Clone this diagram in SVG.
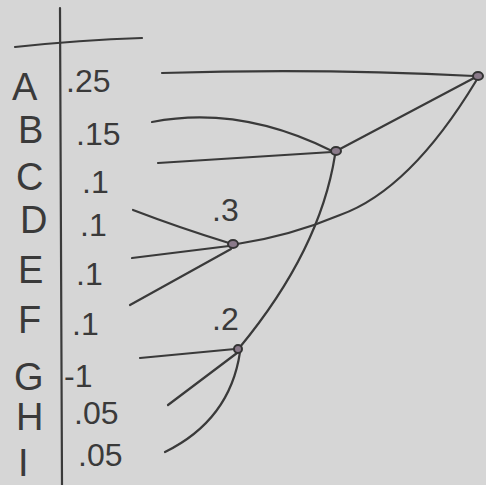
<svg xmlns="http://www.w3.org/2000/svg" width="486" height="485" viewBox="0 0 486 485">
<style>
.ln{fill:none;stroke:#3a3a3a;stroke-width:2.2;stroke-linecap:round}
.lt{font-family:"Liberation Sans","DejaVu Sans",sans-serif;font-size:38px;fill:#3a3a3a}
.v{font-family:"Liberation Sans","DejaVu Sans",sans-serif;font-size:32px;fill:#3a3a3a}
.n{fill:#8a7a8a;stroke:#333;stroke-width:2}
</style>
<rect width="486" height="485" fill="#d6d6d6"/>
<g id="table">
<path class="ln" d="M60 8 L62 485" stroke-width="2.5"/>
<path class="ln" d="M15 47 Q80 40 142 38" stroke-width="3.5"/>
</g>
<g id="labels">
<text class="lt" x="12" y="100">A</text>
<text class="lt" x="18" y="143">B</text>
<text class="lt" x="16" y="190">C</text>
<text class="lt" x="20" y="233">D</text>
<text class="lt" x="18" y="283">E</text>
<text class="lt" x="18" y="333">F</text>
<text class="lt" x="14" y="390">G</text>
<text class="lt" x="16" y="430">H</text>
<text class="lt" x="18" y="476">I</text>
</g>
<g id="values">
<text class="v" x="66" y="92">.25</text>
<text class="v" x="76" y="145">.15</text>
<text class="v" x="82" y="193">.1</text>
<text class="v" x="80" y="236">.1</text>
<text class="v" x="76" y="285">.1</text>
<text class="v" x="72" y="335">.1</text>
<text class="v" x="64" y="387">-1</text>
<text class="v" x="74" y="424">.05</text>
<text class="v" x="78" y="466">.05</text>
</g>
<g id="connectors">
<path class="ln" d="M162 73 Q320 68 474 76"/>
<path class="ln" d="M152 122 Q240 105 332 151"/>
<path class="ln" d="M158 163 L332 152"/>
<path class="ln" d="M474 78 L340 149"/>
<path class="ln" d="M476 81 Q410 190 340 215 Q290 236 237 244"/>
<path class="ln" d="M335 155 Q320 250 240 347"/>
<path class="ln" d="M133 210 Q180 228 229 243"/>
<path class="ln" d="M132 258 L229 246"/>
<path class="ln" d="M130 305 L231 249"/>
<path class="ln" d="M140 358 L235 349"/>
<path class="ln" d="M168 405 L237 353"/>
<path class="ln" d="M165 452 Q230 420 240 352"/>
</g>
<g id="root"><ellipse class="n" cx="478" cy="76" rx="5" ry="4"/></g>
<g id="n25"><ellipse class="n" cx="336" cy="151" rx="5" ry="4" fill="#bbb"/></g>
<g id="n3"><ellipse class="n" cx="233" cy="244" rx="5" ry="4" fill="#ccc"/><text class="v" x="212" y="221">.3</text></g>
<g id="n2"><ellipse class="n" cx="238" cy="349" rx="4" ry="4" fill="#ccc"/><text class="v" x="212" y="330">.2</text></g>
</svg>
